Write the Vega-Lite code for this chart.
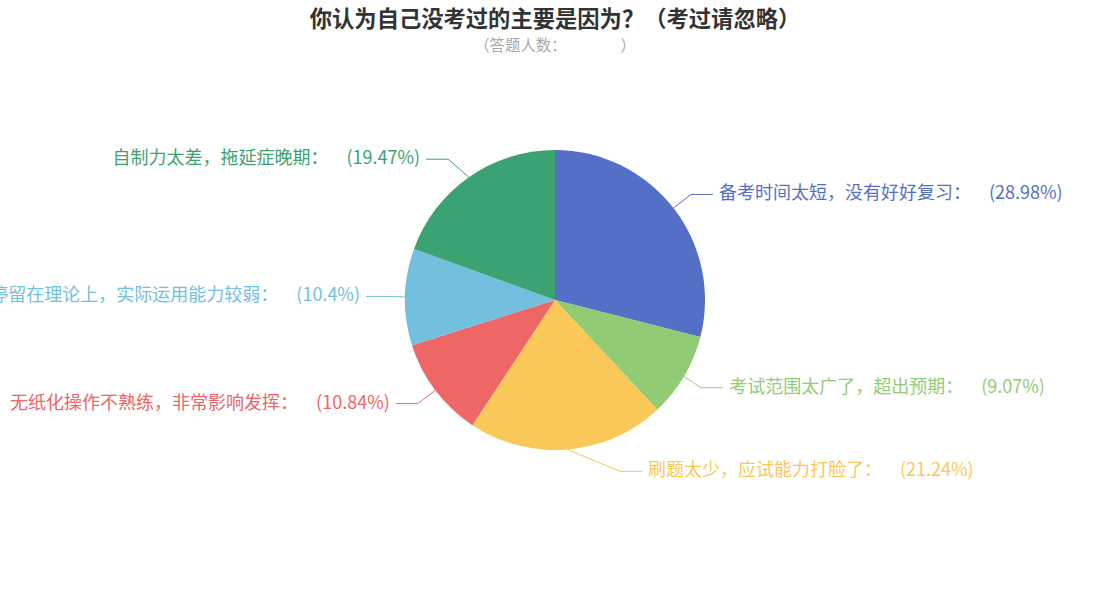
{
  "$schema": "https://vega.github.io/schema/vega-lite/v6.json",
  "width": 1110,
  "height": 480,
  "autosize": {"type": "none"},
  "padding": {"left": 0, "top": 60, "right": 0, "bottom": 60},
  "background": "#ffffff",
  "title": {
    "text": "你认为自己没考过的主要是因为？（考过请忽略）",
    "subtitle": "（答题人数：　　　　）",
    "anchor": "middle",
    "frame": "group",
    "font": "Noto Sans CJK SC",
    "fontSize": 22.3,
    "fontWeight": "bold",
    "color": "#333333",
    "subtitleFont": "Noto Sans CJK SC",
    "subtitleFontSize": 15.4,
    "subtitleColor": "#aaaaaa",
    "subtitlePadding": 7,
    "offset": 6
  },
  "data": {
    "values": [
      {"idx": 1, "cause": "备考时间太短，没有好好复习", "value": 28.98},
      {"idx": 2, "cause": "考试范围太广了，超出预期", "value": 9.07},
      {"idx": 3, "cause": "刷题太少，应试能力打脸了", "value": 21.24},
      {"idx": 4, "cause": "无纸化操作不熟练，非常影响发挥", "value": 10.84},
      {"idx": 5, "cause": "停留在理论上，实际运用能力较弱", "value": 10.4},
      {"idx": 6, "cause": "自制力太差，拖延症晚期", "value": 19.47}
    ]
  },
  "transform": [
    {"joinaggregate": [{"op": "sum", "field": "value", "as": "total"}]},
    {"window": [{"op": "sum", "field": "value", "as": "cum"}], "sort": [{"field": "idx"}], "frame": [null, 0]},
    {"calculate": "(datum.cum - datum.value / 2) / datum.total * 2 * PI", "as": "a"},
    {"calculate": "sin(datum.a) >= 0 ? 1 : -1", "as": "side"},
    {"calculate": "150 * sin(datum.a)", "as": "p1x"},
    {"calculate": "-150 * cos(datum.a)", "as": "p1y"},
    {"calculate": "-172 * cos(datum.a)", "as": "ly"},
    {"calculate": "datum.side * sqrt(195 * 195 - datum.ly * datum.ly)", "as": "lx"},
    {"calculate": "datum.lx - datum.side * 6", "as": "ex"},
    {"calculate": "datum.lx - datum.side * 28", "as": "kx"},
    {"calculate": "datum.cause + '：　\u2002(' + datum.value + '%)'", "as": "label"}
  ],
  "encoding": {
    "color": {
      "field": "cause",
      "type": "nominal",
      "scale": {
        "domain": ["备考时间太短，没有好好复习", "考试范围太广了，超出预期", "刷题太少，应试能力打脸了", "无纸化操作不熟练，非常影响发挥", "停留在理论上，实际运用能力较弱", "自制力太差，拖延症晚期"],
        "range": ["#5470c6", "#91cc75", "#fac858", "#ee6666", "#73c0de", "#3ba272"]
      },
      "legend": null
    }
  },
  "layer": [
    {
      "mark": {"type": "arc", "outerRadius": 150},
      "encoding": {
        "theta": {"field": "value", "type": "quantitative", "stack": true},
        "order": {"field": "idx", "type": "quantitative"}
      }
    },
    {
      "mark": {"type": "rule", "strokeWidth": 1},
      "encoding": {
        "x": {"field": "p1x", "type": "quantitative", "scale": {"domain": [-555, 555], "nice": false, "zero": false}, "axis": null},
        "y": {"field": "p1y", "type": "quantitative", "scale": {"domain": [-240, 240], "nice": false, "zero": false, "reverse": true}, "axis": null},
        "x2": {"field": "kx"},
        "y2": {"field": "ly"}
      }
    },
    {
      "mark": {"type": "rule", "strokeWidth": 1},
      "encoding": {
        "x": {"field": "kx", "type": "quantitative", "axis": null},
        "x2": {"field": "ex"},
        "y": {"field": "ly", "type": "quantitative", "axis": null}
      }
    },
    {
      "transform": [{"filter": "datum.side > 0"}],
      "mark": {"type": "text", "align": "left", "baseline": "middle", "font": "Noto Sans CJK SC", "fontSize": 18},
      "encoding": {
        "x": {"field": "lx", "type": "quantitative", "axis": null},
        "y": {"field": "ly", "type": "quantitative", "axis": null},
        "text": {"field": "label"}
      }
    },
    {
      "transform": [{"filter": "datum.side < 0"}],
      "mark": {"type": "text", "align": "right", "baseline": "middle", "font": "Noto Sans CJK SC", "fontSize": 18},
      "encoding": {
        "x": {"field": "lx", "type": "quantitative", "axis": null},
        "y": {"field": "ly", "type": "quantitative", "axis": null},
        "text": {"field": "label"}
      }
    }
  ],
  "config": {"view": {"stroke": null}}
}
